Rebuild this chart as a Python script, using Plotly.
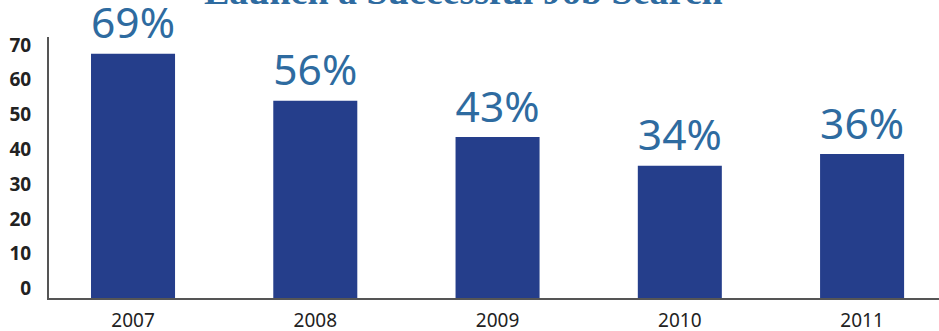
import plotly.graph_objects as go

years = ["2007", "2008", "2009", "2010", "2011"]
bar_values = [70.2, 56.7, 46.3, 38.0, 41.4]
bar_labels = ["69%", "56%", "43%", "34%", "36%"]
y_tick_values = [0, 10, 20, 30, 40, 50, 60, 70]
y_tick_labels = ["0", "10", "20", "30", "40", "50", "60", "70"]
title_text = "Launch a Successful Job Search"

label_offset = 2.7  # tick labels sit slightly above their gridline positions

W, H = 939, 331
ML, MR, MT, MB = 49, 0, 37, 33
plot_w = W - ML - MR
plot_h = H - MT - MB

fig = go.Figure(
    go.Bar(
        x=list(range(len(years))),
        y=bar_values,
        width=0.461,
        marker=dict(color="#253E8B", line=dict(width=0)),
        text=bar_labels,
        textposition="outside",
        textfont=dict(family="Noto Sans", size=45, color="#2E6BA0"),
        cliponaxis=False,
    )
)

fig.update_layout(
    width=W,
    height=H,
    margin=dict(l=ML, r=MR, t=MT, b=MB, autoexpand=False),
    paper_bgcolor="white",
    plot_bgcolor="white",
    showlegend=False,
    annotations=[
        dict(
            text=title_text,
            x=(463 - ML) / plot_w,
            y=(H - MB - 6) / plot_h,
            xref="paper",
            yref="paper",
            yshift=-8,
            showarrow=False,
            font=dict(family="Liberation Serif", size=38, color="#2E6BA0", weight="bold"),
            xanchor="center",
            yanchor="bottom",
        )
    ],
)

fig.update_xaxes(
    range=[-0.461, 4.422],
    automargin=False,
    tickmode="array",
    tickvals=list(range(len(years))),
    ticktext=years,
    showline=True,
    linecolor="#555555",
    linewidth=2,
    showgrid=False,
    zeroline=False,
    ticks="",
    ticklabelstandoff=4,
    tickfont=dict(family="Noto Sans", size=19, color="#222222"),
)
fig.update_yaxes(
    range=[0, 75],
    automargin=False,
    tickmode="array",
    tickvals=[v + label_offset for v in y_tick_values],
    ticktext=y_tick_labels,
    showline=True,
    linecolor="#555555",
    linewidth=2,
    showgrid=False,
    zeroline=False,
    ticks="",
    ticklabelstandoff=12,
    tickfont=dict(family="Noto Sans", size=19, color="#222222", weight="bold"),
)

fig.write_html("out.html")
